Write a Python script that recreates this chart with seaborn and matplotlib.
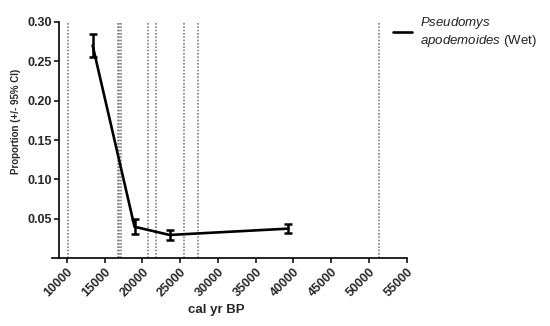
import numpy as np
import pandas as pd
import matplotlib
matplotlib.use("Agg")
import matplotlib.pyplot as plt
import seaborn as sns

# Proportion of Pseudomys apodemoides through time, with 95% CI
age_bp = [13400, 18950, 23600, 39300]
proportion = [0.270, 0.040, 0.0296, 0.0376]
ci_low = [0.255, 0.0305, 0.0232, 0.0318]
ci_high = [0.285, 0.0494, 0.0359, 0.0435]

# Reference dates drawn as dotted verticals
event_ages = [10200, 16700, 16950, 17200, 20800, 21800, 25500, 27400, 51300]

x_ticks = [10000, 15000, 20000, 25000, 30000, 35000, 40000, 45000, 50000, 55000]
y_ticks = [0.05, 0.10, 0.15, 0.20, 0.25, 0.30]
series_label = r"$\it{Pseudomys}$" + "\n" + r"$\it{apodemoides}$ (Wet)"

sns.set_style("ticks")
plt.rcParams["font.family"] = ["Liberation Sans", "DejaVu Sans"]
plt.rcParams["mathtext.fontset"] = "custom"
plt.rcParams["mathtext.it"] = "Liberation Sans:italic"
plt.rcParams["mathtext.rm"] = "Liberation Sans"

df = pd.DataFrame({"age": age_bp, "prop": proportion,
                   "lo": ci_low, "hi": ci_high})

fig = plt.figure(figsize=(5.5, 3.26), dpi=100)
ax = fig.add_axes([0.108, 0.2077, 0.6315, 0.7257])

for a in event_ages:
    ax.axvline(a, color="#808080", lw=1.2, ls=(0, (1, 1)), zorder=1)

sns.lineplot(data=df, x="age", y="prop", ax=ax, color="black", lw=1.9,
             label=series_label, zorder=3, legend=False)
yerr = np.array([df["prop"] - df["lo"], df["hi"] - df["prop"]])
ax.errorbar(df["age"], df["prop"], yerr=yerr, fmt="none", ecolor="black",
            elinewidth=1.8, capsize=3.0, capthick=1.8, zorder=3)

ax.set_xlim(9000, 55000)
ax.set_ylim(0, 0.30)
ax.set_xticks(x_ticks)
ax.set_yticks(y_ticks)
ax.set_xticklabels([str(t) for t in x_ticks], rotation=45, ha="right",
                   rotation_mode="anchor", fontweight="bold", fontsize=9)
ax.set_yticklabels([f"{t:.2f}" for t in y_ticks], fontweight="bold",
                   fontsize=9)
ax.tick_params(axis="both", direction="out", length=3.5, width=1.1,
               color="black", pad=2)

for side in ["top", "right"]:
    ax.spines[side].set_visible(False)
for side in ["left", "bottom"]:
    ax.spines[side].set_linewidth(1.2)
    ax.spines[side].set_color("black")
ax.spines["bottom"].set_bounds(8000, 55000)

ax.set_xlabel("cal yr BP", fontweight="bold", fontsize=9.5)
ax.xaxis.set_label_coords(0.451, -0.195)
ax.set_ylabel("Proportion (+/- 95% CI)", fontweight="bold", fontsize=7,
              family=["Liberation Sans Narrow", "Liberation Sans"])
ax.yaxis.set_label_coords(-0.11, 0.58)

handles, labels = ax.get_legend_handles_labels()
leg = fig.legend(handles, labels, loc="upper left",
                 bbox_to_anchor=(0.703, 0.975), frameon=False, borderpad=0,
                 fontsize=9.5, handlelength=1.4, handletextpad=0.6,
                 labelcolor="#222222")

fig.savefig("out.png", dpi=100)
